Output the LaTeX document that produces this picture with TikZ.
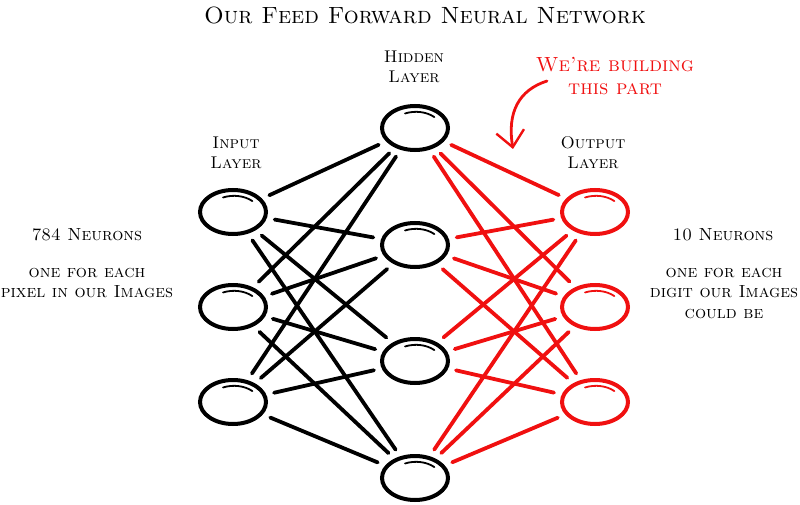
\documentclass[tikz,border=0pt]{standalone}
\usetikzlibrary{shapes.geometric,arrows.meta}
\definecolor{sketchred}{RGB}{240,16,16}
\begin{document}
\begin{tikzpicture}[x=1pt,y=-1pt,
  neuron/.style={draw, ellipse, line width=4pt, minimum width=66pt, minimum height=44pt, inner sep=0pt},
  rneuron/.style={neuron, draw=sketchred},
  blink/.style={line width=3.8pt, line cap=round, shorten <=8pt, shorten >=8pt},
  rlink/.style={blink, draw=sketchred},
  lbl/.style={font=\scshape\fontsize{17}{20}\selectfont, align=center, inner sep=0pt},
  side/.style={font=\scshape\fontsize{17.5}{20.5}\selectfont, align=center, inner sep=0pt},
  gloss/.style={line width=1.8pt, line cap=round}
]
\useasboundingbox (0,0) rectangle (800,505);

% title
\node[font=\scshape\fontsize{23.5}{26}\selectfont, inner sep=0pt] (title) at (425,15) {Our Feed Forward Neural Network};

% layer labels
\node[lbl] (lhid) at (414,67) {Hidden\\Layer};
\node[lbl] (lin) at (236,153) {Input\\Layer};
\node[lbl] (lout) at (593,153) {Output\\Layer};
\node[lbl, text=sketchred, font=\scshape\fontsize{20.5}{23}\selectfont] (lred) at (615,76) {We're building\\this part};

% side texts
\node[side] (n784) at (87,235) {784 Neurons};
\node[side] (d784) at (87,283) {one for each\\pixel in our Images};
\node[side] (n10) at (723,235) {10 Neurons};
\node[side] (d10) at (724,293) {one for each\\digit our Images\\could be};

% neurons
\node[neuron] (i1) at (233,212) {};
\node[neuron] (i2) at (233,307) {};
\node[neuron] (i3) at (233,402) {};
\node[neuron] (h1) at (415,128) {};
\node[neuron] (h2) at (415,245) {};
\node[neuron] (h3) at (415,361) {};
\node[neuron] (h4) at (415,478) {};
\node[rneuron] (o1) at (595,212) {};
\node[rneuron] (o2) at (595,307) {};
\node[rneuron] (o3) at (595,402) {};

% sketchy highlight strokes along the inside top of each ellipse
\foreach \n in {i1,i2,i3,h1,h2,h3,h4}
  \draw[gloss] (\n.center) ++(-10,-14.5) arc[start angle=-115, end angle=-45, x radius=26, y radius=18];
\foreach \n in {o1,o2,o3}
  \draw[gloss, sketchred] (\n.center) ++(-10,-14.5) arc[start angle=-115, end angle=-45, x radius=26, y radius=18];

% input -> hidden
\foreach \i in {i1,i2,i3}
  \foreach \h in {h1,h2,h3,h4}
    \draw[blink] (\i) -- (\h);

% hidden -> output
\foreach \h in {h1,h2,h3,h4}
  \foreach \o in {o1,o2,o3}
    \draw[rlink] (\h) -- (\o);

% arrow
\coordinate (astart) at (547,81);
\coordinate (atip) at (513,149);
\draw[sketchred, line width=2.8pt, line cap=round,
  -{Straight Barb[length=16pt, width=28pt, line width=2.4pt]}]
  (astart) .. controls (519,90) and (507,112) .. (atip);
\end{tikzpicture}
\end{document}
